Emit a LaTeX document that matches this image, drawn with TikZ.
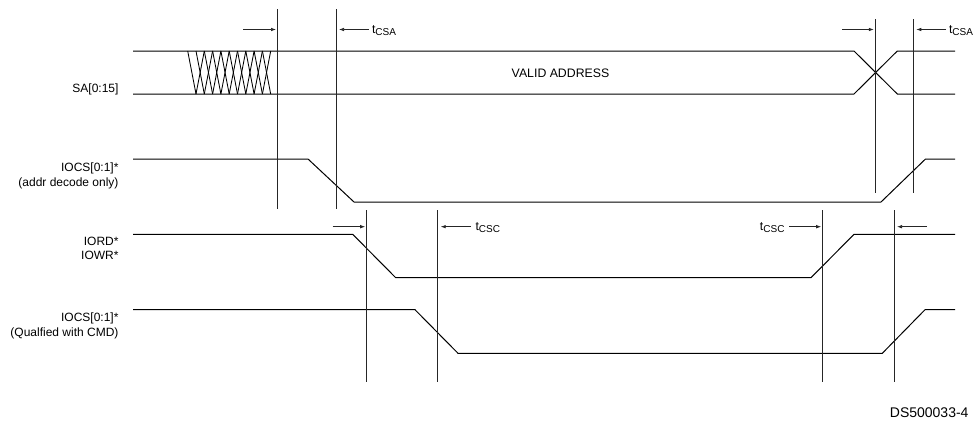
\documentclass[tikz,border=0pt]{standalone}
\usepackage{fontspec}
\setmainfont{Liberation Sans}
\usetikzlibrary{arrows.meta}
\newcommand{\tsub}[1]{t\raisebox{-2.6pt}{\fontsize{10}{10}\selectfont #1}}
\tikzset{
  x=1pt,y=-1pt,
  sig/.style={draw=black,line width=1pt,line join=miter},
  guide/.style={draw=black!85,line width=1pt},
  hatch/.style={draw=black,line width=0.85pt},
  dim/.style={draw=black!85,line width=0.7pt,-{Latex[length=5pt,width=3.6pt]}},
  lab/.style={inner sep=0pt,outer sep=0pt,font=\fontsize{12}{14}\selectfont,align=right},
  tlab/.style={inner sep=0pt,outer sep=0pt,font=\fontsize{12.3}{14}\selectfont}
}
\begin{document}
\begin{tikzpicture}
\useasboundingbox (0,0) rectangle (980,423);
% signals
\draw[sig] (133,51) -- (854,51) -- (897.3,94) -- (955,94);
\draw[sig] (133,94) -- (854,94) -- (897.3,51) -- (955,51);
\draw[sig] (133,159) -- (308,159) -- (354,202) -- (881,202) -- (925.5,159) -- (955,159);
\draw[sig] (133,234.3) -- (352.7,234.3) -- (395.7,277.7) -- (811,277.7) -- (854,234.3) -- (955,234.3);
\draw[sig] (133,309.7) -- (415,309.7) -- (458,353.3) -- (882.3,353.3) -- (925,309.7) -- (955,309.7);
% hatch
\foreach \k in {0,...,9}{
  \draw[hatch] ({187.7+8.3*\k},51) -- ({196+8.3*\k},94);
}
\foreach \k in {2,...,10}{
  \draw[hatch] ({187.7+8.3*\k},51) -- ({196+8.3*(\k-2)},94);
}
% guides
\coordinate (g1a) at (277,9);   \coordinate (g1b) at (277,209);
\coordinate (g2a) at (336,9);   \coordinate (g2b) at (336,209);
\coordinate (g3a) at (875.3,19); \coordinate (g3b) at (875.3,193);
\coordinate (g4a) at (913.3,19); \coordinate (g4b) at (913.3,193);
\coordinate (g5a) at (366.7,210); \coordinate (g5b) at (366.7,382);
\coordinate (g6a) at (437.7,210); \coordinate (g6b) at (437.7,382);
\coordinate (g7a) at (822.7,210); \coordinate (g7b) at (822.7,382);
\coordinate (g8a) at (894,210);   \coordinate (g8b) at (894,382);
\foreach \g in {1,...,8}{\draw[guide] (g\g a) -- (g\g b);}
% timing labels
\node[tlab,anchor=west] (t1) at (372,30.5) {\tsub{CSA}};
\node[tlab,anchor=west] (t2) at (949,30.5) {\tsub{CSA}};
\node[tlab,anchor=west] (t3) at (475.5,227.5) {\tsub{CSC}};
\node[tlab,anchor=east] (t4) at (784.5,227.5) {\tsub{CSC}};
% dimension arrows
\coordinate (d1) at (243,29.5);
\coordinate (d2) at (842,29.5);
\coordinate (d3) at (332.7,226.7);
\coordinate (d4) at (927,226.7);
\draw[dim] (d1) -- ([xshift=-1pt]g1a |- d1);
\draw[dim] ([xshift=-3.5pt]t1.west |- 0,29.5) -- ([xshift=3pt]g2a |- 0,29.5);
\draw[dim] (d2) -- ([xshift=-1.5pt]g3a |- d2);
\draw[dim] ([xshift=-3pt]t2.west |- 0,29.5) -- ([xshift=3pt]g4a |- 0,29.5);
\draw[dim] (d3) -- ([xshift=-1.5pt]g5a |- d3);
\draw[dim] ([xshift=-5pt]t3.west |- 0,226.7) -- ([xshift=3pt]g6a |- 0,226.7);
\draw[dim] ([xshift=4.5pt]t4.east |- 0,226.7) -- ([xshift=-1.5pt]g7a |- 0,226.7);
\draw[dim] (d4) -- ([xshift=3pt]g8a |- d4);
% labels
\node[lab,anchor=east] (sa) at (118.5,89.5) {SA[0:15]};
\node[lab,anchor=east] (cs1) at (118.5,176) {IOCS[0:1]*\\[0.4pt](addr decode only)};
\node[lab,anchor=east] (rd) at (118.5,248) {IORD*\\[0pt]IOWR*};
\node[lab,anchor=east] (cs2) at (118.5,325.5) {IOCS[0:1]*\\[1pt](Qualfied with CMD)};
\node[tlab,anchor=center] (va) at (560.5,73.5) {VALID ADDRESS};
\node[lab,anchor=east,font=\fontsize{14}{16}\selectfont] (ds) at (968.5,413) {DS500033-4};
\end{tikzpicture}
\end{document}
